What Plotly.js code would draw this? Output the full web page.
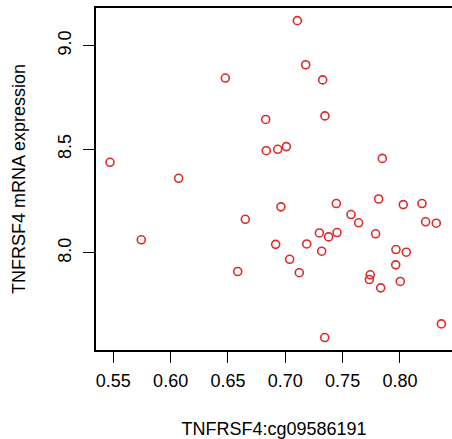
<!DOCTYPE html>
<html>
<head>
<meta charset="utf-8">
<script src="https://cdn.plot.ly/plotly-3.0.1.min.js"></script>
<style>html,body{margin:0;padding:0;background:#fff;}#chart{width:452px;height:439px;}</style>
</head>
<body>
<div id="chart"></div>
<script>
const methylation = [0.7105, 0.7178, 0.6477, 0.7326, 0.6829, 0.7346, 0.6834, 0.6934, 0.7009, 0.7846, 0.5471, 0.6070,
  0.5744, 0.6962, 0.6651, 0.7445, 0.7814, 0.8029, 0.8192, 0.7573, 0.7640, 0.8224, 0.8317, 0.7297, 0.7378, 0.7451,
  0.7788, 0.6916, 0.7187, 0.7317, 0.7965, 0.8055, 0.7038, 0.7963, 0.6585, 0.7122, 0.7741, 0.7733, 0.8003, 0.7832,
  0.8361, 0.7344];
const expression = [9.121, 8.908, 8.844, 8.835, 8.644, 8.661, 8.493, 8.500, 8.513, 8.456, 8.437, 8.360,
  8.063, 8.222, 8.162, 8.238, 8.260, 8.233, 8.238, 8.185, 8.145, 8.150, 8.143, 8.096, 8.077, 8.098,
  8.092, 8.041, 8.043, 8.008, 8.016, 8.003, 7.969, 7.942, 7.910, 7.904, 7.894, 7.871, 7.862, 7.831,
  7.657, 7.591];
const xTicks = [0.55, 0.60, 0.65, 0.70, 0.75, 0.80];
const xTickLabels = ["0.55", "0.60", "0.65", "0.70", "0.75", "0.80"];
const yTicks = [8.0, 8.5, 9.0];
const yTickLabels = ["8.0", "8.5", "9.0"];

const font = {family: "Liberation Sans, Arial, sans-serif", size: 18, color: "#000"};

Plotly.newPlot("chart", [{
  x: methylation, y: expression, type: "scatter", mode: "markers",
  marker: {symbol: "circle-open", size: 8, color: "#dd2a2a", line: {width: 1.6, color: "#dd2a2a"}},
  hoverinfo: "x+y"
}], {
  width: 452, height: 439,
  margin: {l: 96, r: 0, t: 8, b: 88.5},
  paper_bgcolor: "#fff", plot_bgcolor: "#fff",
  showlegend: false,
  font: font,
  xaxis: {
    range: [0.5349, 0.8454], tickvals: xTicks, ticktext: xTickLabels,
    ticks: "outside", ticklen: 11, tickwidth: 1.3, tickcolor: "#000", ticklabelstandoff: 3,
    showline: true, mirror: true, linecolor: "#000", linewidth: 1.6,
    showgrid: false, zeroline: false, tickfont: font,
    title: {text: "TNFRSF4:cg09586191", font: font, standoff: 36}
  },
  yaxis: {
    range: [7.531, 9.182], tickvals: yTicks, ticktext: yTickLabels,
    ticks: "outside", ticklen: 11, tickwidth: 1.3, tickcolor: "#000", tickangle: -90,
    ticklabelstandoff: 5,
    showline: true, linecolor: "#000", linewidth: 1.6,
    showgrid: false, zeroline: false, tickfont: font,
    title: {text: "TNFRSF4 mRNA expression", font: font, standoff: 25}
  }
}, {displayModeBar: false, staticPlot: false});
</script>
</body>
</html>
